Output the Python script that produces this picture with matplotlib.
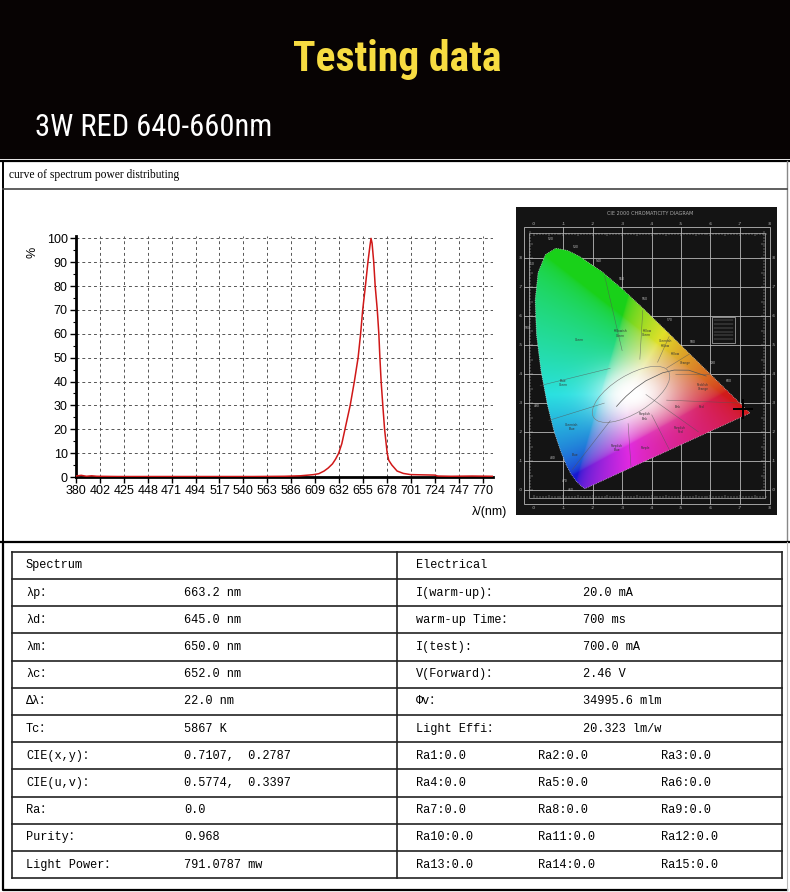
import numpy as np
import matplotlib
matplotlib.use("Agg")
import matplotlib.pyplot as plt
from matplotlib import font_manager
from matplotlib.patches import Rectangle, Polygon, Ellipse
from matplotlib.collections import LineCollection

# spectrum curve
wavelength = [380, 385, 390, 395, 400, 420, 450, 500, 550, 580,
              595, 603, 608, 613, 618, 622, 626, 629, 632, 635,
              638, 643, 647, 650.6, 653, 655, 657.6, 660, 662, 663,
              664, 665.6, 667, 669, 670.5, 671.5, 672.7, 674.3, 676, 678.5,
              680, 683, 688, 694, 701, 712, 724, 727, 740, 760, 780]
power = [0.4, 0.7, 0.3, 0.5, 0.3, 0.2, 0.2, 0.2, 0.2, 0.3,
         0.5, 0.8, 1.0, 1.4, 2.5, 3.8, 5.5, 7.5, 10, 14,
         20, 30, 40, 50, 60, 70, 80, 90, 97, 100,
         98, 90, 80, 70, 60, 50, 40, 30, 20, 10,
         7, 5, 2.5, 1.5, 1.0, 0.9, 0.8, 0.4, 0.3, 0.4, 0.3]
x_tick_labels = ['380', '402', '425', '448', '471', '494', '517', '540', '563',
                 '586', '609', '632', '655', '678', '701', '724', '747', '770']
y_ticks = [0, 10, 20, 30, 40, 50, 60, 70, 80, 90, 100]

# CIE 1931 spectral locus for the chromaticity chart
locus_nm = [380, 420, 440, 450, 460, 470, 475, 480, 485, 490, 495, 500, 505, 510, 515,
            520, 525, 530, 540, 550, 560, 570, 580, 590, 600, 610, 620, 630, 640, 650, 700]
locus_x = [0.1741, 0.1714, 0.1644, 0.1566, 0.1440, 0.1241, 0.1096, 0.0913, 0.0687, 0.0454,
           0.0235, 0.0082, 0.0039, 0.0139, 0.0389, 0.0743, 0.1142, 0.1547, 0.2296, 0.3016,
           0.3731, 0.4441, 0.5125, 0.5752, 0.6270, 0.6658, 0.6915, 0.7079, 0.7190, 0.7260, 0.7347]
locus_y = [0.0050, 0.0051, 0.0109, 0.0177, 0.0297, 0.0578, 0.0868, 0.1327, 0.2007, 0.2950,
           0.4127, 0.5384, 0.6548, 0.7502, 0.8120, 0.8338, 0.8262, 0.8059, 0.7543, 0.6923,
           0.6245, 0.5547, 0.4866, 0.4242, 0.3725, 0.3340, 0.3083, 0.2920, 0.2809, 0.2740, 0.2653]
labelled_nm = [460, 470, 480, 490, 500, 510, 520, 530, 540, 550, 560, 570, 580, 590, 600]
planck_x = [0.2807, 0.2952, 0.3135, 0.3451, 0.3805, 0.4369, 0.4764, 0.5266, 0.5857]
planck_y = [0.2884, 0.3048, 0.3237, 0.3516, 0.3768, 0.4041, 0.4137, 0.4133, 0.3931]
cie_x, cie_y = 0.7107, 0.2787
region_names = ['Green', 'Yellowish\nGreen', 'Yellow\nGreen', 'Greenish\nYellow', 'Yellow',
                'Orange', 'Reddish\nOrange', 'Red', 'Pink', 'Purplish\nPink', 'Purple',
                'Purplish\nBlue', 'Blue', 'Greenish\nBlue', 'Blue\nGreen', 'Purplish\nRed']
region_x = [0.156, 0.293, 0.383, 0.446, 0.48, 0.514, 0.575, 0.57, 0.49, 0.378, 0.378,
            0.281, 0.14, 0.128, 0.10, 0.497]
region_y = [0.517, 0.540, 0.541, 0.506, 0.47, 0.437, 0.356, 0.287, 0.287, 0.253, 0.145,
            0.145, 0.12, 0.218, 0.369, 0.207]
boundaries = [[(0.26, 0.42), (0.02, 0.36)], [(0.24, 0.30), (0.05, 0.24)],
              [(0.26, 0.24), (0.13, 0.07)], [(0.36, 0.45), (0.37, 0.62)],
              [(0.42, 0.44), (0.46, 0.53)], [(0.45, 0.42), (0.53, 0.47)],
              [(0.48, 0.40), (0.60, 0.40)], [(0.45, 0.31), (0.70, 0.30)],
              [(0.40, 0.26), (0.46, 0.14)], [(0.32, 0.23), (0.33, 0.08)],
              [(0.30, 0.48), (0.24, 0.74)], [(0.38, 0.33), (0.56, 0.20)]]

# table contents
spectrum_labels = ['λp：', 'λd：', 'λm：', 'λc：', 'Δλ：', 'Tc：', 'CIE(x,y)：',
                   'CIE(u,v)：', 'Ra：', 'Purity：', 'Light Power：']
spectrum_values = ['663.2 nm', '645.0 nm', '650.0 nm', '652.0 nm', '22.0 nm', '5867 K',
                   '0.7107,  0.2787', '0.5774,  0.3397', '0.0', '0.968', '791.0787 mw']
electric_labels = ['I(warm-up)：', 'warm-up Time：', 'I(test):', 'V(Forward)：', 'Φv：', 'Light Effi：']
electric_values = ['20.0 mA', '700 ms', '700.0 mA', '2.46 V', '34995.6 mlm', '20.323 lm/w']
ra_values = [0.0, 0.0, 0.0, 0.0, 0.0, 0.0, 0.0, 0.0, 0.0, 0.0, 0.0, 0.0, 0.0, 0.0, 0.0]

W, H = 790, 892
fonts = font_manager.fontManager.ttflist
names = {f.name for f in fonts}
head_kw = dict(family='Open Sans')
title_size, sub_size = 26, 19
if 'Liberation Sans Narrow' in names:
    head_kw = dict(family='Liberation Sans Narrow')
    title_size, sub_size = 31.5, 23
elif 'Roboto Condensed' in names:
    head_kw = dict(family='Roboto Condensed')
    title_size, sub_size = 30, 22
elif any(f.name == 'DejaVu Sans' and f.stretch == 'condensed' and f.weight == 'bold' for f in fonts):
    head_kw = dict(family='DejaVu Sans', fontstretch='condensed')
    title_size, sub_size = 27, 20
mono = ['Liberation Mono', 'Noto Sans CJK SC', 'DejaVu Sans']

fig = plt.figure(figsize=(W / 100, H / 100), dpi=100)


def axes_px(l, t, r, b):
    return fig.add_axes([l / W, 1 - b / H, (r - l) / W, (b - t) / H])


bg = axes_px(0, 0, W, H)
bg.set_xlim(0, W)
bg.set_ylim(H, 0)
bg.axis('off')

# black header
bg.add_patch(Rectangle((0, 0), W, 159, color='#070303', lw=0))
bg.text(397, 60, 'Testing data', color='#f7dc41', fontsize=title_size, fontweight='bold',
        ha='center', va='center', **head_kw)
bg.text(35, 128, '3W RED 640-660nm', color='white', fontsize=sub_size,
        ha='left', va='center', **head_kw)

# spectrum panel frame
bg.plot([0, W], [161, 161], color='black', lw=1.6)
bg.plot([2.5, 2.5], [161, 542], color='black', lw=1.4)
bg.plot([786.5, 786.5], [161, 542], color='#888888', lw=1.0)
bg.plot([2.5, 786.5], [189, 189], color='#444444', lw=1.2)
bg.plot([0, W], [542, 542], color='black', lw=1.6)
bg.text(9, 175, 'curve of spectrum power distributing', fontsize=8.3,
        family=['Liberation Serif', 'DejaVu Serif'], ha='left', va='center')

# table frame
bg.plot([2.5, 2.5, 786.5], [542, 889.5, 889.5], color='black', lw=1.6)
bg.plot([786.5, 786.5], [542, 889.5], color='#bbbbbb', lw=0.8)
row_h = (878.3 - 551.7) / 12
tab_top = 551.7
for i in range(13):
    yy = tab_top + i * row_h
    bg.plot([12, 781.5], [yy, yy], color='#222222', lw=1.2)
bg.plot([12, 12], [tab_top, 878.3], color='#222222', lw=1.2)
bg.plot([781.5, 781.5], [tab_top, 878.3], color='#222222', lw=1.2)
bg.plot([397, 397], [tab_top, 878.3], color='#222222', lw=1.2)

fs = 8.6
bg.text(26, tab_top + row_h / 2, 'Spectrum', fontsize=fs, family=mono, va='center')
bg.text(416, tab_top + row_h / 2, 'Electrical', fontsize=fs, family=mono, va='center')
for i, (lab, val) in enumerate(zip(spectrum_labels, spectrum_values)):
    yc = tab_top + (i + 1.5) * row_h
    bg.text(26, yc, lab, fontsize=fs, family=mono, va='center')
    bg.text(184, yc, val, fontsize=fs, family=mono, va='center')
for i, (lab, val) in enumerate(zip(electric_labels, electric_values)):
    yc = tab_top + (i + 1.5) * row_h
    bg.text(416, yc, lab, fontsize=fs, family=mono, va='center')
    bg.text(583, yc, val, fontsize=fs, family=mono, va='center')
ra_cols = [416, 538, 661]
for k, v in enumerate(ra_values):
    yc = tab_top + (7 + k // 3 + 0.5) * row_h
    bg.text(ra_cols[k % 3], yc, 'Ra%d:%.1f' % (k + 1, v), fontsize=fs, family=mono, va='center')

# spectrum chart
ax = axes_px(76, 236, 493, 477)
ax.plot(wavelength, power, color='#d01818', lw=1.1, zorder=3)
ax.set_xlim(380, 780)
ax.set_ylim(0, 101)
ax.set_xticks(np.linspace(380, 770, len(x_tick_labels)))
ax.set_xticklabels(x_tick_labels)
ax.set_yticks(y_ticks)
ax.set_yticks(np.arange(5, 100, 10), minor=True)
ax.grid(True, ls=(0, (3, 3)), color='#555555', lw=0.7)
for s in ['top', 'right']:
    ax.spines[s].set_visible(False)
for s in ['left', 'bottom']:
    ax.spines[s].set_linewidth(2)
ax.tick_params(labelsize=9, length=4, width=1, pad=2)
ax.tick_params(which='minor', length=2, width=0.8)
for lab in ax.get_xticklabels() + ax.get_yticklabels():
    lab.set_family('Liberation Sans')
ax.patch.set_alpha(0)
bg.text(33, 252, '%', fontsize=9, family='Liberation Sans', rotation=90, ha='center', va='center')
bg.text(490, 512, 'λ/(nm)', fontsize=9, family='Liberation Sans', ha='center', va='center')

# chromaticity chart
cie = axes_px(516, 207, 777, 515)
cie.set_xlim(-0.0612, 0.8265)
cie.set_ylim(-0.086, 0.976)
cie.set_facecolor('#141414')
cie.set_xticks([])
cie.set_yticks([])
for s in cie.spines.values():
    s.set_visible(False)

fr_l, fr_r, fr_b, fr_t = -0.034, 0.803, -0.048, 0.907
gc = '#b8b8b8'
cie.add_patch(Rectangle((fr_l, fr_b), fr_r - fr_l, fr_t - fr_b, fill=False, ec=gc, lw=0.6))
cie.add_patch(Rectangle((fr_l + 0.018, fr_b + 0.02), fr_r - fr_l - 0.036, fr_t - fr_b - 0.04,
                        fill=False, ec=gc, lw=0.5))
for g in np.arange(0.1, 0.75, 0.1):
    cie.plot([g, g], [fr_b, fr_t], color=gc, lw=0.6, zorder=1)
for g in np.arange(0.0, 0.85, 0.1):
    cie.plot([fr_l, fr_r], [g, g], color=gc, lw=0.6, zorder=1)
segs = []
for t in np.arange(0.0, 0.8, 0.01):
    ln = 0.012 if round(t * 100) % 5 == 0 else 0.006
    segs.append([(t, fr_t - 0.02), (t, fr_t - 0.02 - ln)])
    segs.append([(t, fr_b + 0.02), (t, fr_b + 0.02 + ln)])
for t in np.arange(0.0, 0.9, 0.01):
    ln = 0.012 if round(t * 100) % 5 == 0 else 0.006
    segs.append([(fr_l + 0.018, t), (fr_l + 0.018 + ln, t)])
    segs.append([(fr_r - 0.018, t), (fr_r - 0.018 - ln, t)])
cie.add_collection(LineCollection(segs, colors=gc, linewidths=0.35))
for k in range(9):
    cie.text(k / 10, fr_t + 0.012, '.%d' % k, color=gc, fontsize=3.2, ha='center', va='center')
    cie.text(k / 10, fr_b - 0.014, '.%d' % k, color=gc, fontsize=3.2, ha='center', va='center')
for k in range(9):
    cie.text(fr_l - 0.012, k / 10, '.%d' % k, color=gc, fontsize=3.2, ha='center', va='center')
    cie.text(fr_r + 0.012, k / 10, '.%d' % k, color=gc, fontsize=3.2, ha='center', va='center')
cie.text(0.395, 0.953, 'CIE 2000 CHROMATICITY DIAGRAM', color='#aaaaaa', fontsize=3.6,
         ha='center', va='center')
# little legend box at the right
cie.add_patch(Rectangle((0.604, 0.506), 0.08, 0.092, fill=False, ec='#dddddd', lw=0.4))
for j in range(6):
    cie.plot([0.612, 0.676], [0.52 + j * 0.013] * 2, color='#999999', lw=0.3)

# colour fill of the horseshoe
M = np.array([[3.2406, -1.5372, -0.4986],
              [-0.9689, 1.8758, 0.0415],
              [0.0557, -0.2040, 1.0570]])
gx, gy = np.meshgrid(np.linspace(0, 0.75, 320), np.linspace(0, 0.85, 360))
gys = np.maximum(gy, 1e-3)
xyz = np.stack([gx / gys, np.ones_like(gx), (1 - gx - gy) / gys], axis=-1)
rgb = np.clip(xyz @ M.T, 0, None)
rgb = rgb / np.maximum(rgb.max(axis=-1, keepdims=True), 1e-9)
rgb = np.where(rgb <= 0.0031308, 12.92 * rgb, 1.055 * rgb ** (1 / 2.4) - 0.055)
grey = rgb.mean(axis=-1, keepdims=True)
rgb = 0.72 * rgb + 0.18 * grey + 0.04
wt = np.exp(-(((gx - 0.34) / 0.13) ** 2 + ((gy - 0.33) / 0.09) ** 2))[..., None]
rgb = np.clip(rgb * (1 - wt) + wt, 0, 1)
horse = Polygon(np.column_stack([locus_x, locus_y]), closed=True, fc='none', ec='#dddddd',
                lw=0.5, ls=':', zorder=4)
cie.add_patch(horse)
im = cie.imshow(rgb, extent=(0, 0.75, 0, 0.85), origin='lower', aspect='auto',
                interpolation='bilinear', zorder=2)
im.set_clip_path(horse)

cie.plot(planck_x, planck_y, color='#555555', lw=0.5, zorder=3)
cie.add_patch(Ellipse((0.33, 0.33), 0.30, 0.13, angle=32, fill=False, ec='#777777', lw=0.4, zorder=3))
cie.add_collection(LineCollection(boundaries, colors='#555555', linewidths=0.4, alpha=0.7, zorder=3))
for nm_, tx, ty in zip(region_names, region_x, region_y):
    cie.text(tx, ty, nm_, fontsize=2.2, color='#333333', ha='center', va='center', zorder=4)
wx, wy = 0.3333, 0.3333
for nm_, lx, ly in zip(locus_nm, locus_x, locus_y):
    if nm_ not in labelled_nm:
        continue
    d = np.hypot(lx - wx, ly - wy)
    cie.text(lx + 0.035 * (lx - wx) / d, ly + 0.035 * (ly - wy) / d, str(nm_),
             fontsize=2.2, color='#cccccc', ha='center', va='center', zorder=4)

cie.plot([cie_x], [cie_y], marker='+', ms=14, mew=1.4, color='black', zorder=6)

fig.savefig('out.png', dpi=100)
